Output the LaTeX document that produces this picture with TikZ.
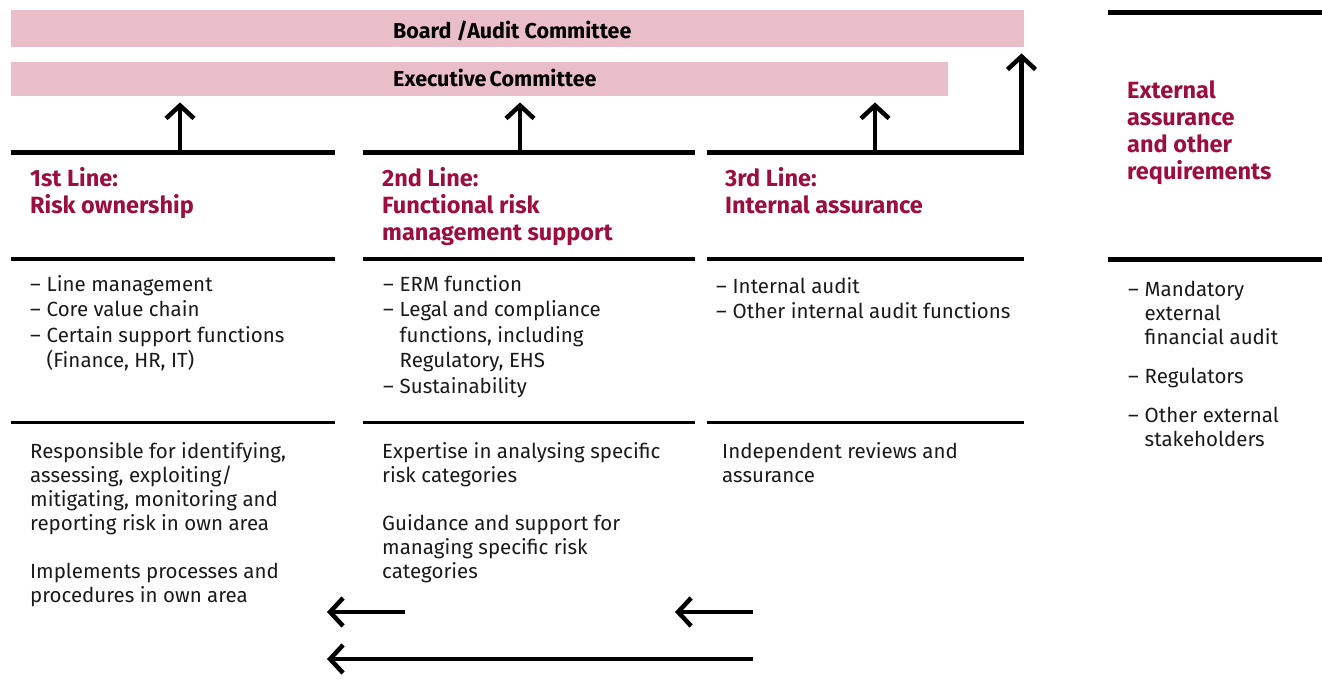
\documentclass[tikz,border=0pt]{standalone}
\usepackage{fontspec}
\setmainfont{Fira Sans}
\usetikzlibrary{arrows.meta}
\definecolor{barpink}{RGB}{234,190,200}
\definecolor{headred}{RGB}{155,14,62}
\definecolor{bodyink}{RGB}{26,26,26}
\newlength{\dashw}
\setlength{\dashw}{16.5pt}
\newcommand{\itm}{\makebox[\dashw][l]{–}}
\newcommand{\cnt}{\hspace*{\dashw}}
\begin{document}
\begin{tikzpicture}[x=1pt,y=-1pt,
  bar/.style={fill=barpink, draw=none, inner sep=0, anchor=north west},
  bartext/.style={font=\bfseries\fontsize{21.5}{24}\selectfont, anchor=base west, inner sep=0},
  head/.style={font=\bfseries\fontsize{23.5}{27}\selectfont, text=headred, align=left, anchor=base west, inner sep=0},
  body/.style={font=\fontsize{20.5}{25.5}\selectfont, text=bodyink, align=left, anchor=base west, inner sep=0},
  desc/.style={font=\fontsize{20.5}{24}\selectfont, text=bodyink, align=left, anchor=base west, inner sep=0},
  rulethick/.style={line width=5pt},
  rulemid/.style={line width=4.5pt},
  rulethin/.style={line width=3pt},
  flow/.style={line width=4.5pt, -{Straight Barb[length=13pt,width=28pt]}},
]
\useasboundingbox (0,0) rectangle (1322,696);

% committee bars
\node[bar, minimum width=1013pt, minimum height=37pt] (board) at (11,10) {};
\node[bar, minimum width=937pt, minimum height=34pt] (exec) at (11,62) {};
\node[bartext] (boardtxt) at (393,38) {Board /Audit Committee};
\node[bartext] (exectxt) at (393,86) {Executive\hspace{-2pt} Committee};

% column rules
\coordinate (c1a) at (11,152.5);  \coordinate (c1b) at (335,152.5);
\coordinate (c2a) at (363,152.5); \coordinate (c2b) at (695,152.5);
\coordinate (c3a) at (707,152.5); \coordinate (c3b) at (1024,152.5);
\coordinate (c4a) at (1108,12.5); \coordinate (c4b) at (1322,12.5);
\draw[rulethick] (c1a) -- (c1b);
\draw[rulethick] (c2a) -- (c2b);
\draw[rulethick] (c3a) -- (c3b);
\draw[rulethick] (c4a) -- (c4b);

\coordinate (m1a) at (11,259);   \coordinate (m1b) at (335,259);
\coordinate (m2a) at (363,259);  \coordinate (m2b) at (695,259);
\coordinate (m3a) at (707,259);  \coordinate (m3b) at (1024,259);
\coordinate (m4a) at (1108,259.5); \coordinate (m4b) at (1322,259.5);
\draw[rulemid] (m1a) -- (m1b);
\draw[rulemid] (m2a) -- (m2b);
\draw[rulemid] (m3a) -- (m3b);
\draw[rulemid] (m4a) -- (m4b);

\coordinate (b1a) at (11,422.5);  \coordinate (b1b) at (335,422.5);
\coordinate (b2a) at (363,422.5); \coordinate (b2b) at (695,422.5);
\coordinate (b3a) at (707,422.5); \coordinate (b3b) at (1024,422.5);
\draw[rulethin] (b1a) -- (b1b);
\draw[rulethin] (b2a) -- (b2b);
\draw[rulethin] (b3a) -- (b3b);

% reporting arrows
\coordinate (u1) at (180,152.5);
\coordinate (u2) at (520,152.5);
\coordinate (u3) at (875,152.5);
\coordinate (u4) at (1021.5,154.5);
\draw[flow] (u1) -- ([yshift=-6pt]exec.south -| u1);
\draw[flow] (u2) -- ([yshift=-6pt]exec.south -| u2);
\draw[flow] (u3) -- ([yshift=-6pt]exec.south -| u3);
\draw[flow] (u4) -- ([yshift=-6pt]board.south -| u4);

% headings (anchored on the baseline of their last line)
\node[head] (h1) at (30,213.5) {1st Line:\\Risk ownership};
\node[head] (h2) at (382,240) {2nd Line:\\Functional risk\\management support};
\node[head] (h3) at (725,213.5) {3rd Line:\\Internal assurance};
\node[head] (h4) at (1127,179) {External\\assurance\\and other\\requirements};

% responsibilities
\node[body] (l1) at (30,367.5) {\itm Line management\\\itm Core value chain\\\itm Certain support functions\\\cnt (Finance, HR, IT)};
\node[body] (l2) at (383,393) {\itm ERM function\\\itm Legal and compliance\\\cnt functions, including\\\cnt Regulatory, EHS\\\itm Sustainability};
\node[body] (l3) at (716,318.5) {\itm Internal audit\\\itm Other internal audit functions};
\node[desc] (l4) at (1128,446) {\itm Mandatory\\\cnt external\\\cnt financial audit\\[15pt]\itm Regulators\\[15pt]\itm Other external\\\cnt stakeholders};

% roles
\node[desc] (d1) at (30,602) {Responsible for identifying,\\assessing, exploiting/\\mitigating, monitoring and\\reporting risk in own area\\[24pt]Implements processes and\\procedures in own area};
\node[desc] (d2) at (382,578) {Expertise in analysing specific\\risk categories\\[24pt]Guidance and support for\\managing specific risk\\categories};
\node[desc] (d3) at (722,482) {Independent reviews and\\assurance};

% lines feeding back
\coordinate (f1s) at (405,612); \coordinate (f1e) at (327,612);
\coordinate (f2s) at (753,612); \coordinate (f2e) at (675,612);
\coordinate (f3s) at (753,659); \coordinate (f3e) at (327,659);
\draw[flow] (f1s) -- (f1e);
\draw[flow] (f2s) -- (f2e);
\draw[flow] (f3s) -- (f3e);
\end{tikzpicture}
\end{document}
